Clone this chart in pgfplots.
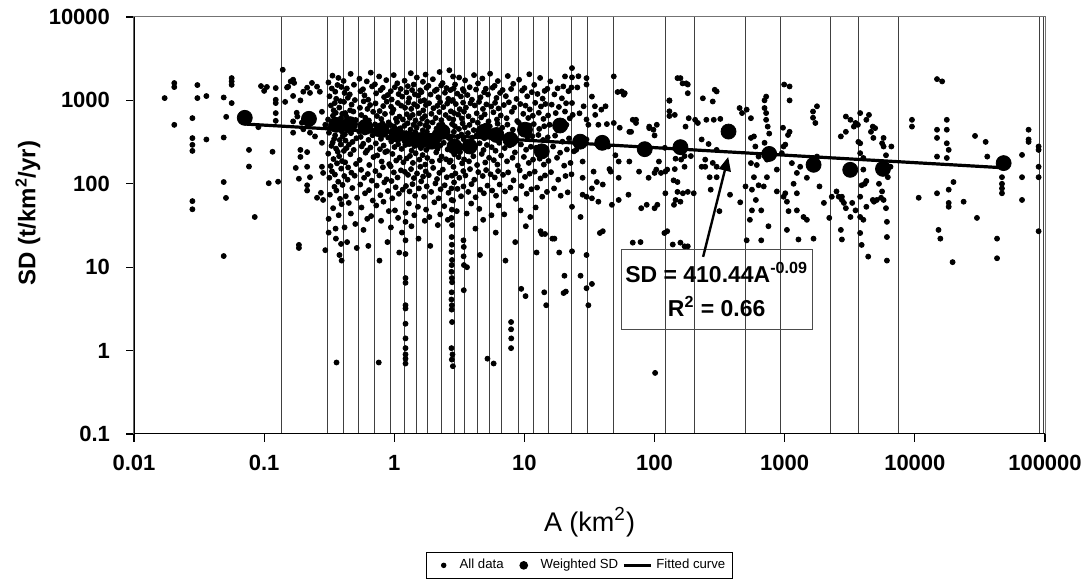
\documentclass[border=0pt]{standalone}
\usepackage{fontspec}
\setmainfont{Liberation Sans}
\usepackage{pgfplots}
\pgfplotsset{compat=1.18}
\usetikzlibrary{arrows.meta}
\begin{document}
\begin{tikzpicture}
\useasboundingbox (-67pt,-73.5pt) rectangle (478.5pt,217pt);
\begin{axis}[
 scale only axis, width=455.5pt, height=208.5pt,
 xmode=log, ymode=log, xmin=0.01, xmax=100000, ymin=0.1, ymax=10000,
 xtick={0.01,0.1,1,10,100,1000,10000,100000},
 xticklabels={0.01,0.1,1,10,100,1000,10000,100000},
 ytick={0.1,1,10,100,1000,10000},
 yticklabels={0.1,1,10,100,1000,10000},
 xminorticks=false, yminorticks=false,
 xtick pos=bottom, ytick pos=left,
 tick align=outside, major tick length=4pt,
 tick style={black, line width=0.6pt},
 ticklabel style={font=\bfseries\fontsize{11}{13}\selectfont},
 xticklabel style={yshift=-3pt},
 yticklabel style={xshift=-4.5pt},
 axis line style={black!55, line width=0.5pt},
 xlabel={A (km\textsuperscript{2})},
 xlabel style={at={(axis description cs:0.5,-0.211)}, anchor=center, font=\fontsize{13.5}{15}\selectfont},
 ylabel={\textbf{SD (t/km\textsuperscript{2}/yr)}},
 ylabel style={at={(axis description cs:-0.1164,0.53)}, anchor=center, font=\fontsize{12}{14}\selectfont},
 legend columns=3,
 legend style={at={(axis description cs:0.489,-0.315)}, anchor=center, draw=black, line width=0.5pt,
   font=\fontsize{6.6}{8}\selectfont, inner sep=1.5pt,
   /tikz/every even column/.append style={column sep=0pt}},
 clip=true,
]
% bin boundaries
\addplot[black!75, line width=0.5pt, forget plot] coordinates {(0.137,0.1) (0.137,10000)};
\addplot[black!75, line width=0.5pt, forget plot] coordinates {(0.308,0.1) (0.308,10000)};
\addplot[black!75, line width=0.5pt, forget plot] coordinates {(0.404,0.1) (0.404,10000)};
\addplot[black!75, line width=0.5pt, forget plot] coordinates {(0.533,0.1) (0.533,10000)};
\addplot[black!75, line width=0.5pt, forget plot] coordinates {(0.703,0.1) (0.703,10000)};
\addplot[black!75, line width=0.5pt, forget plot] coordinates {(0.929,0.1) (0.929,10000)};
\addplot[black!75, line width=0.5pt, forget plot] coordinates {(1.19,0.1) (1.19,10000)};
\addplot[black!75, line width=0.5pt, forget plot] coordinates {(1.47,0.1) (1.47,10000)};
\addplot[black!75, line width=0.5pt, forget plot] coordinates {(1.80,0.1) (1.80,10000)};
\addplot[black!75, line width=0.5pt, forget plot] coordinates {(2.32,0.1) (2.32,10000)};
\addplot[black!75, line width=0.5pt, forget plot] coordinates {(2.90,0.1) (2.90,10000)};
\addplot[black!75, line width=0.5pt, forget plot] coordinates {(3.44,0.1) (3.44,10000)};
\addplot[black!75, line width=0.5pt, forget plot] coordinates {(4.35,0.1) (4.35,10000)};
\addplot[black!75, line width=0.5pt, forget plot] coordinates {(5.38,0.1) (5.38,10000)};
\addplot[black!75, line width=0.5pt, forget plot] coordinates {(6.66,0.1) (6.66,10000)};
\addplot[black!75, line width=0.5pt, forget plot] coordinates {(8.95,0.1) (8.95,10000)};
\addplot[black!75, line width=0.5pt, forget plot] coordinates {(11.7,0.1) (11.7,10000)};
\addplot[black!75, line width=0.5pt, forget plot] coordinates {(15.4,0.1) (15.4,10000)};
\addplot[black!75, line width=0.5pt, forget plot] coordinates {(22.9,0.1) (22.9,10000)};
\addplot[black!75, line width=0.5pt, forget plot] coordinates {(30.5,0.1) (30.5,10000)};
\addplot[black!75, line width=0.5pt, forget plot] coordinates {(48.6,0.1) (48.6,10000)};
\addplot[black!75, line width=0.5pt, forget plot] coordinates {(120.6,0.1) (120.6,10000)};
\addplot[black!75, line width=0.5pt, forget plot] coordinates {(201,0.1) (201,10000)};
\addplot[black!75, line width=0.5pt, forget plot] coordinates {(503,0.1) (503,10000)};
\addplot[black!75, line width=0.5pt, forget plot] coordinates {(929,0.1) (929,10000)};
\addplot[black!75, line width=0.5pt, forget plot] coordinates {(2265,0.1) (2265,10000)};
\addplot[black!75, line width=0.5pt, forget plot] coordinates {(3690,0.1) (3690,10000)};
\addplot[black!75, line width=0.5pt, forget plot] coordinates {(7550,0.1) (7550,10000)};
\addplot[black!75, line width=0.5pt, forget plot] coordinates {(90400,0.1) (90400,10000)};
\addplot[black!75, line width=0.5pt, forget plot] coordinates {(96600,0.1) (96600,10000)};
% all data
\addplot[only marks, mark=*, mark size=1.25pt, black, mark options={fill=black},
  legend image code/.code={\path (0pt,0pt) (12.5pt,0pt); \fill[black] (6.8pt,0pt) circle (1.1pt);}] coordinates {
(0.0172,1066) (0.0204,1614) (0.0204,1445) (0.0204,509) (0.0281,613) (0.0281,353) (0.0281,293) (0.0281,248) (0.0281,62) (0.0281,49.5)
(0.0307,1527) (0.0307,1066) (0.036,1127) (0.036,340) (0.0489,1084) (0.0489,359) (0.0489,105) (0.0509,67.7) (0.0489,13.6) (0.0511,635)
(0.0563,1853) (0.0563,1690) (0.0563,1537) (0.0563,929) (0.0765,255) (0.0765,161) (0.0847,40) (0.0903,478) (0.0946,1485) (0.1,1300)
(0.105,1450) (0.1085,101.6) (0.116,242) (0.1228,1406) (0.1228,1017) (0.1228,929) (0.1228,704) (0.1228,569) (0.128,106) (0.139,2330)
(0.145,960) (0.15,1430) (0.16,1690)
(0.153,1460) (0.167,1770) (0.17,1620) (0.167,1130) (0.19,1000) (0.2,1270) (0.214,1420) (0.233,1620) (0.255,1460) (0.268,1270)
(0.225,1230) (0.178,710) (0.18,640) (0.167,560) (0.195,540) (0.233,620) (0.278,730) (0.295,510) (0.167,410) (0.2,450)
(0.225,410) (0.246,370) (0.278,310) (0.19,255) (0.214,240) (0.19,210) (0.175,155) (0.214,160) (0.225,120) (0.185,115)
(0.214,96) (0.214,83) (0.278,160) (0.284,135) (0.255,68) (0.284,64) (0.273,78) (0.185,18.5) (0.185,17) (0.295,16)
(0.312,1640) (0.318,1120) (0.326,870) (0.31,590) (0.322,470) (0.315,410) (0.329,285) (0.311,230) (0.324,163) (0.317,118) (0.32,74) (0.313,38) (0.313,26)
(0.335,1980) (0.331,1390) (0.342,760) (0.338,655) (0.333,520) (0.345,345) (0.336,312) (0.341,198) (0.332,141) (0.347,92) (0.339,51)
(0.352,1270) (0.358,1045) (0.349,930) (0.355,710) (0.361,455) (0.351,380) (0.357,264) (0.363,176) (0.35,129) (0.359,83) (0.354,29) (0.356,22) (0.36,0.72)
(0.372,1860) (0.366,1530) (0.378,820) (0.369,560) (0.375,498) (0.381,335) (0.368,242) (0.377,214) (0.371,106) (0.383,66) (0.374,42) (0.379,14)
(0.392,1450) (0.386,980) (0.398,690) (0.389,612) (0.395,425) (0.401,372) (0.388,296) (0.397,187) (0.391,152) (0.4,97) (0.394,57) (0.39,19) (0.394,12)
(0.408,1710) (0.415,1230) (0.411,960) (0.42,705) (0.406,545) (0.417,392) (0.422,330) (0.41,248) (0.419,181) (0.413,124) (0.424,71) (0.415,30)
(0.432,1390) (0.44,1075) (0.428,640) (0.445,515) (0.436,438) (0.449,296) (0.43,268) (0.442,157) (0.438,112) (0.447,59) (0.434,20)
(0.462,2080) (0.455,1180) (0.47,890) (0.458,760) (0.474,468) (0.465,405) (0.478,318) (0.46,226) (0.468,136) (0.476,89) (0.464,44)
(0.49,1540) (0.498,1010) (0.485,735) (0.505,582) (0.493,490) (0.512,352) (0.488,255) (0.508,173) (0.496,125) (0.518,68) (0.502,33) (0.515,17)
(0.54,1820) (0.55,1290) (0.545,815) (0.558,668) (0.537,425) (0.552,365) (0.562,281) (0.542,193) (0.556,147) (0.548,98) (0.56,52)
(0.575,1360) (0.59,1150) (0.582,975) (0.598,620) (0.57,540) (0.594,412) (0.578,302) (0.602,236) (0.586,118) (0.596,77) (0.58,28)
(0.615,1690) (0.63,1020) (0.622,790) (0.638,575) (0.61,482) (0.634,336) (0.618,251) (0.642,168) (0.626,131) (0.64,84) (0.62,38) (0.632,18)
(0.66,2150) (0.675,1470) (0.652,880) (0.688,730) (0.668,445) (0.68,382) (0.656,272) (0.692,209) (0.672,109) (0.684,63) (0.664,41)
(0.71,1560) (0.725,1215) (0.718,920) (0.735,650) (0.713,515) (0.73,398) (0.722,305) (0.74,219) (0.716,142) (0.733,95) (0.727,55) (0.76,0.72)
(0.765,1935) (0.785,1330) (0.772,745) (0.795,598) (0.758,462) (0.79,346) (0.776,260) (0.8,185) (0.768,126) (0.782,73) (0.792,36) (0.77,12)
(0.815,1415) (0.835,1095) (0.822,855) (0.848,688) (0.81,530) (0.842,420) (0.828,288) (0.852,240) (0.818,158) (0.838,104) (0.826,61)
(0.868,1750) (0.89,1160) (0.875,965) (0.905,545) (0.862,475) (0.898,358) (0.882,246) (0.915,172) (0.872,113) (0.894,82) (0.908,47) (0.886,20)
(0.94,1290) (0.955,1025) (0.945,840) (0.962,712) (0.935,505) (0.958,430) (0.948,322) (0.968,228) (0.938,162) (0.952,108) (0.965,67) (0.942,30)
(0.99,2010) (1.01,1440) (0.985,778) (1.03,603) (0.995,488) (1.02,341) (1.005,276) (1.035,190) (0.992,137) (1.025,91) (1.012,48)
(1.055,1605) (1.08,1190) (1.065,932) (1.095,640) (1.05,552) (1.088,396) (1.072,298) (1.1,206) (1.06,119) (1.085,76) (1.07,39) (1.092,15)
(1.12,1370) (1.15,1110) (1.13,865) (1.165,590) (1.115,463) (1.155,372) (1.138,262) (1.175,181) (1.125,145) (1.16,85) (1.145,26)
(1.2,1720) (1.24,1250) (1.21,815) (1.25,683) (1.195,495) (1.235,405) (1.215,292) (1.245,201) (1.205,139) (1.23,94) (1.22,45) (1.22,35)
(1.22,21) (1.22,14.4) (1.22,7.4) (1.22,6.5) (1.22,3.5) (1.22,3.2) (1.22,2.1) (1.22,1.4) (1.22,1.07) (1.22,0.9) (1.22,0.8) (1.22,0.7)
(1.27,1480) (1.3,1060) (1.28,945) (1.315,618) (1.265,532) (1.305,364) (1.29,307) (1.32,216) (1.275,128) (1.31,81) (1.295,58)
(1.34,2120) (1.37,1330) (1.35,790) (1.385,670) (1.335,448) (1.375,380) (1.36,250) (1.39,178) (1.345,150) (1.38,99) (1.355,31)
(1.41,1550) (1.44,1180) (1.42,900) (1.455,575) (1.405,510) (1.45,415) (1.43,284) (1.46,232) (1.415,117) (1.445,72) (1.425,42)
(1.49,1880) (1.53,1140) (1.5,850) (1.55,700) (1.485,470) (1.54,345) (1.51,315) (1.56,195) (1.495,133) (1.545,88) (1.52,53) (1.535,22)
(1.58,1320) (1.62,1260) (1.59,980) (1.64,605) (1.575,525) (1.63,388) (1.6,268) (1.65,221) (1.585,160) (1.61,107)
(1.66,1670) (1.7,1005) (1.67,760) (1.72,648) (1.655,437) (1.71,352) (1.68,294) (1.73,170) (1.665,122) (1.695,70) (1.715,36)
(1.74,2040) (1.77,1420) (1.75,880) (1.79,555) (1.735,500) (1.78,420) (1.76,255) (1.795,204) (1.745,141) (1.775,93) (1.755,49)
(1.83,1495) (1.9,1175) (1.85,925) (1.93,690) (1.82,480) (1.91,366) (1.87,279) (1.95,185) (1.84,127) (1.92,80) (1.86,40) (1.89,18)
(1.98,1795) (2.05,1300) (2.0,805) (2.08,615) (1.97,545) (2.06,410) (2.02,300) (2.1,238) (1.99,155) (2.07,101) (2.03,60)
(2.12,1350) (2.18,1090) (2.14,860) (2.22,725) (2.11,458) (2.2,340) (2.15,262) (2.24,192) (2.13,114) (2.19,67) (2.16,32)
(2.23,2190) (2.29,1510) (2.25,955) (2.3,580) (2.21,505) (2.28,395) (2.26,288) (2.31,213) (2.22,135) (2.27,86) (2.255,43)
(2.35,1610) (2.45,1235) (2.38,830) (2.48,668) (2.34,515) (2.46,378) (2.4,310) (2.5,197) (2.36,148) (2.44,96) (2.42,54)
(2.52,1405) (2.6,1045) (2.55,915) (2.64,612) (2.51,446) (2.62,354) (2.57,258) (2.66,182) (2.53,120) (2.61,78) (2.58,37)
(2.7,1330) (2.76,985) (2.72,740) (2.78,520) (2.74,368) (2.8,270) (2.71,190) (2.77,125) (2.75,88) (2.76,64) (2.77,49) (2.75,39)
(2.78,32) (2.76,23) (2.77,18.6) (2.75,15.2) (2.78,12.2) (2.76,10.6) (2.75,8.8) (2.77,7.4) (2.78,6.6) (2.76,5.0) (2.75,4.1) (2.77,3.5)
(2.76,3.1) (2.78,2.2) (2.75,1.07) (2.8,0.9) (2.77,0.78) (2.82,0.65) (2.65,2300)
(2.83,1930) (2.86,1390) (2.82,1010) (2.88,705) (2.84,590) (2.87,420) (2.81,318) (2.89,226) (2.85,160) (2.88,104) (2.83,63)
(2.93,1550) (3.05,1205) (2.97,905) (3.1,676) (2.92,490) (3.08,365) (3.0,287) (3.12,209) (2.95,133) (3.06,87) (3.02,47)
(3.15,1880) (3.25,1115) (3.18,785) (3.3,608) (3.14,454) (3.28,390) (3.2,240) (3.32,176) (3.16,118) (3.26,71)
(3.36,1365) (3.42,1295) (3.38,940) (3.43,733) (3.35,530) (3.41,342) (3.37,272) (3.44,196) (3.39,142) (3.4,93)
(3.4,21) (3.42,17.5) (3.41,13.5) (3.43,10.6) (3.42,5.3)
(3.5,1740) (3.65,1160) (3.55,820) (3.72,645) (3.48,475) (3.68,405) (3.58,300) (3.75,186) (3.52,126) (3.7,80) (3.6,44) (3.62,10)
(3.8,1440) (3.95,1020) (3.85,925) (4.0,575) (3.78,508) (3.98,358) (3.88,262) (4.05,214) (3.82,150) (3.92,99) (3.9,58)
(4.1,2010) (4.25,1350) (4.15,870) (4.3,700) (4.08,440) (4.28,380) (4.18,283) (4.33,168) (4.12,112) (4.22,69) (4.2,29)
(4.4,1600) (4.6,1090) (4.48,960) (4.65,625) (4.38,540) (4.62,415) (4.52,306) (4.7,228) (4.42,138) (4.58,85) (4.5,50) (4.55,14)
(4.75,1830) (4.9,1250) (4.8,790) (4.95,680) (4.72,465) (4.92,352) (4.85,254) (5.0,180) (4.78,124) (4.88,77) (4.82,37)
(5.05,1380) (5.25,1175) (5.1,895) (5.3,560) (5.02,498) (5.28,398) (5.15,292) (5.35,205) (5.08,146) (5.2,95) (5.2,0.8)
(5.45,2090) (5.7,1420) (5.55,845) (5.78,720) (5.42,488) (5.75,370) (5.6,275) (5.82,192) (5.5,130) (5.65,83) (5.58,42) (5.8,0.7)
(5.9,1495) (6.1,1070) (5.95,935) (6.15,590) (5.88,430) (6.12,345) (6.0,249) (6.2,170) (5.92,119) (6.05,72) (6.02,26)
(6.25,1705) (6.5,1230) (6.32,800) (6.58,660) (6.22,525) (6.55,410) (6.4,310) (6.62,218) (6.28,142) (6.45,98) (6.35,55)
(6.8,1330) (7.2,1125) (6.95,880) (7.3,612) (6.75,470) (7.25,362) (7.05,268) (7.35,186) (6.85,128) (7.1,81) (7.0,43) (7.15,12)
(7.45,1960) (7.9,1370) (7.6,950) (8.0,730) (7.4,512) (7.95,388) (7.7,289) (8.1,205) (7.5,137) (7.8,90) (7.9,2.2) (7.9,1.8) (7.92,1.4) (7.9,1.07)
(8.2,1580) (8.7,1040) (8.35,820) (8.8,565) (8.15,445) (8.75,330) (8.45,238) (8.9,165) (8.25,110) (8.6,66) (8.5,20)
(9.1,1770) (9.6,1310) (9.3,905) (9.8,690) (9.05,540) (9.7,400) (9.4,296) (9.9,210) (9.2,145) (9.5,94) (9.35,48) (9.45,5.5)
(10.0,1405) (10.5,1120) (10.2,865) (10.7,615) (9.95,465) (10.6,358) (10.3,256) (10.8,178) (10.1,121) (10.4,76) (10.25,31) (10.2,4.5)
(10.9,2060) (11.4,1255) (11.0,780) (11.6,655) (10.85,500) (11.5,372) (11.2,278) (11.65,195) (10.95,132) (11.3,86) (11.1,40)
(11.9,1535) (12.6,1195) (12.1,935) (12.9,710) (11.8,520) (12.8,385) (12.3,270) (13.1,200) (12.0,140) (12.5,90) (12.2,52) (12.4,15)
(13.2,1860) (13.8,1050) (13.4,845) (14.0,600) (13.0,455) (13.9,335) (13.5,244) (14.1,170) (13.3,116) (13.7,70) (13.6,25) (13.3,27)
(14.3,1300) (15.0,1375) (14.5,905) (15.2,660) (14.2,490) (15.1,360) (14.7,262) (15.3,188) (14.4,126) (14.9,80) (14.2,5.0) (14.4,25) (14.7,3.5)
(15.8,1690) (17.0,1180) (16.2,890) (17.4,705) (15.6,510) (17.2,378) (16.6,280) (17.8,205) (16.0,138) (16.9,88) (16.4,22) (17,22)
(18.0,1395) (19.4,1060) (18.4,835) (19.8,560) (17.9,440) (19.6,320) (18.8,236) (20.2,165) (18.2,112) (19.0,72) (18.5,15)
(20.5,1940) (21.8,1290) (20.9,925) (22.3,610) (20.4,475) (22.0,350) (21.2,258) (22.6,178) (20.7,124) (21.5,79) (20.0,4.9) (20.8,5.1)
(23.2,2440) (23.2,1890) (26,1950) (30,1850) (19.9,1470) (23,1430) (25.5,1430) (30,1550) (33,1110) (23.2,930) (28.5,850) (34.8,850)
(39,775) (42,850) (48.6,1940) (52,1260) (59,1220) (20.5,735) (23.5,670) (26.5,700) (30,590) (35,670) (37,510) (48.6,536) (43,520)
(54,470) (64,420) (72,585) (91,465) (104,510) (130,990) (143,670) (173,485) (183,612) (164,1600) (180,1220) (158,1850)
(24,245) (28,185) (34,140) (45,150) (50,220) (53,185) (23,130) (28,118) (33,88) (36,105) (40,98) (46,140) (53,118) (64,185) (76,140)
(90,118) (103,148) (108,185) (121,140) (143,150) (150,105) (170,160) (28,74) (30,70) (33,67) (37,61) (47,56) (53,64) (63,74) (79,51)
(87,56) (121,77) (141,56) (145,64) (23.2,53) (27,40) (38,25.7) (40,27) (23.2,15.5) (30,14) (20.3,7.9) (27,7.9) (33,6.3) (30,5.6) (31,3.5)
(119,25.7) (68,19.7) (138,18.7) (170,17.8) (21,510) (31,510) (30,340) (25,255) (38,340) (44,280) (66,420) (79,245) (100,380) (120,270)
(145,200) (160,195)
(56,1280) (58,1170) (68,585) (72,536) (91,485) (98,445) (130,1000) (150,1850) (175,1600) (180,1550) (235,1060) (280,970) (300,1280)
(205,585) (215,536) (250,585) (285,585) (320,600) (130,650) (130,740) (155,255) (170,215) (190,215) (245,160) (265,120) (300,160)
(100,135) (112,135) (125,148) (140,110) (150,80) (165,77) (180,80) (200,77) (158,61) (100,51) (105,56) (78,20) (125,27) (158,19.7)
(180,17.8) (101,0.54)
(290,1340) (230,340) (260,300) (300,255) (245,195) (280,178) (230,160) (300,120) (270,85) (315,47) (380,74) (455,60) (500,93) (560,85)
(560,48) (540,37) (600,64) (660,48) (750,31) (660,21) (510,21) (450,810) (470,705) (510,775) (550,612) (550,355) (580,370) (595,280)
(630,212) (610,168) (550,177) (580,120) (630,96) (690,93) (700,1000) (720,1110) (700,810) (720,705) (720,585) (740,485) (760,400) (700,310)
(990,1550) (1090,1470) (1090,1000) (970,470) (1060,385) (1090,420)
(730,195) (730,120) (870,148) (950,233) (980,280) (1010,295) (1135,177) (1170,100) (1240,135) (1315,160) (1480,118) (1240,77) (1010,77)
(1040,61) (1070,47) (1240,48) (1395,40) (1480,37) (870,81) (980,70) (1040,28) (1275,21.5) (1665,22)
(1650,735) (1720,536) (1650,620) (1770,850) (1770,212) (1780,160) (1850,93) (2200,39) (2000,59) (2300,70) (2700,28) (2750,21.5) (2500,81)
(2600,70) (2750,70) (2750,64) (2850,59) (2950,51) (3300,59) (3500,48) (3200,40)
(2950,640) (3200,585) (3500,536) (3650,510) (3400,485) (3800,705) (2700,370) (2950,420)
(3680,318) (3800,306) (3800,233) (4020,204) (4020,148) (3900,96) (4120,100) (4240,108) (3800,70) (3800,40) (4020,37) (4240,53) (3800,25.7)
(3900,18.5) (4380,13.4)
(4240,585) (4440,670) (4750,485) (4950,465) (4600,420) (4800,355)
(4750,64) (4850,61) (5100,64) (5500,68) (5750,64) (6000,51) (5600,81) (5300,100) (6100,35)
(5600,306) (5750,280) (6000,220) (6100,168) (6200,120) (6500,160) (6600,280) (5750,355) (6100,23) (6100,12)
(9500,585) (9500,485) (10700,68) (14800,445) (14800,355) (14800,212) (14800,77) (15200,28) (15700,22) (17600,585) (17600,445) (17600,306)
(18200,255) (17600,204) (18200,85) (18200,59) (18200,53) (19800,105) (23700,61) (30000,39) (19500,11.5) (14800,1800) (16200,1690)
(29000,375) (35000,318) (36000,212) (42800,22) (42800,12.8) (46700,120) (46700,100) (46700,88) (46700,77)
(66600,222) (66600,120) (66600,64) (74800,445) (74800,340) (74800,318)
(89300,280) (89300,255) (89300,160) (89300,120) (89300,27)
};
\addlegendentry{All data}
% fitted curve (drawn under the weighted points)
\addplot[black, line width=1.6pt, forget plot] coordinates {(0.071,521) (48100,155.6)};
% weighted SD
\addplot[only marks, mark=*, mark size=3.75pt, black, mark options={fill=black},
  legend image code/.code={\path (0pt,0pt) (14pt,0pt); \fill[black] (7.8pt,0pt) circle (1.9pt);}] coordinates {
(0.071,618) (0.221,601) (0.357,509) (0.457,519) (0.6,480) (0.8,440) (1.05,390) (1.3,345) (1.6,330) (1.95,320)
(2.35,420) (2.9,280) (3.8,280) (4.85,420) (6.1,385) (7.8,340) (10.1,445) (13.6,245) (18.8,500) (26.8,320)
(39.6,310) (84,260) (158,275) (370,423) (760,228) (1667,169) (3187,147) (5690,151) (48100,177)
};
\addlegendentry{Weighted SD}
\addlegendimage{black, line width=1.6pt, legend image code/.code={\draw[black, line width=1.6pt] (0pt,0pt) -- (13.5pt,0pt);}}
\addlegendentry{Fitted curve}
% black left and bottom axis lines
\draw[black, line width=1pt] (rel axis cs:0,1) -- (rel axis cs:0,0) -- (rel axis cs:1,0);
% annotation
\node[draw=black!70, line width=0.5pt, minimum width=95.5pt, minimum height=40pt, align=center,
  font=\bfseries\fontsize{11.5}{17}\selectfont, inner sep=0pt] at (axis cs:300,5.43)
  {SD = 410.44A\textsuperscript{-0.09}\\R\textsuperscript{2} = 0.66};
\draw[black, line width=1.2pt, -{Triangle[length=7pt, width=6pt]}] (axis cs:236,13.3) -- (axis cs:368,210);
\end{axis}
\end{tikzpicture}
\end{document}
